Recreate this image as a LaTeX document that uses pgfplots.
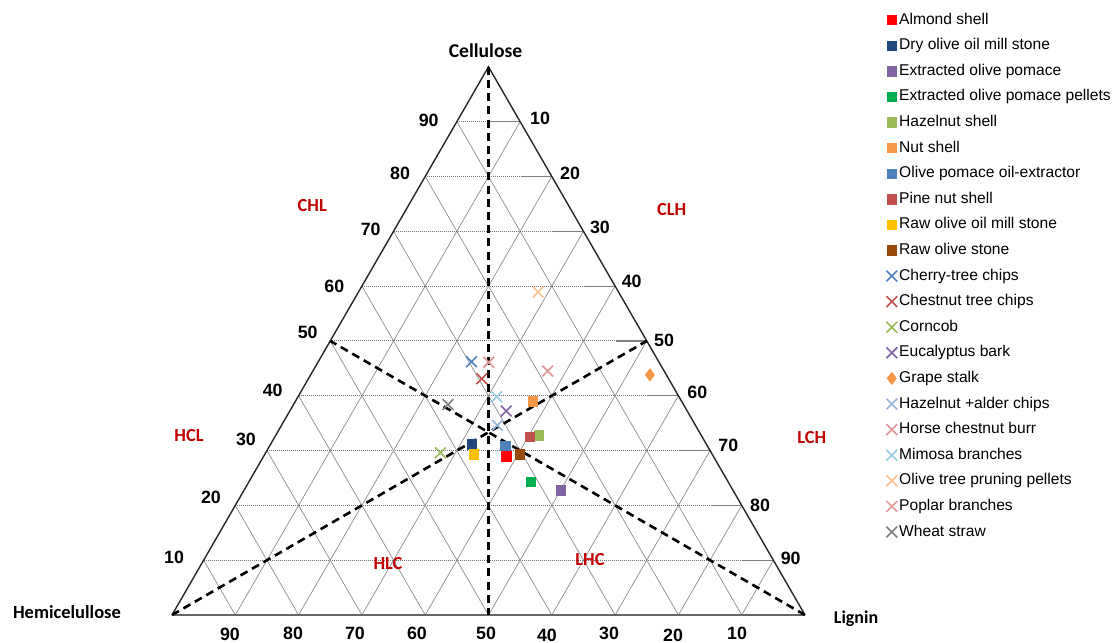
\documentclass[border=0pt]{standalone}
\usepackage{pgfplots}
\pgfplotsset{compat=1.18}
\usepackage{fontspec}
\setmainfont{Liberation Sans}
\newfontfamily\calibri{Carlito}

\definecolor{cAlmond}{HTML}{FF0000}
\definecolor{cDry}{HTML}{1F497D}
\definecolor{cExt}{HTML}{8064A2}
\definecolor{cExtP}{HTML}{00B050}
\definecolor{cHaz}{HTML}{9BBB59}
\definecolor{cNut}{HTML}{F79646}
\definecolor{cOPO}{HTML}{4F81BD}
\definecolor{cPine}{HTML}{C0504D}
\definecolor{cRawM}{HTML}{FFC000}
\definecolor{cRawS}{HTML}{984807}
\definecolor{cHA}{HTML}{95B3D7}
\definecolor{cHorse}{HTML}{D99694}
\definecolor{cMim}{HTML}{93CDDD}
\definecolor{cOTP}{HTML}{FAC090}
\definecolor{cPop}{HTML}{E09A98}
\definecolor{cWheat}{HTML}{7F7F7F}
\definecolor{lblred}{HTML}{C00000}

\tikzset{
  ticklbl/.style={font=\bfseries\fontsize{8.9}{10}\selectfont},
  redlbl/.style={font=\calibri\bfseries\fontsize{9.2}{10}\selectfont, text=lblred},
  namelbl/.style={font=\calibri\bfseries\fontsize{#1}{10}\selectfont},
}
\pgfplotsset{
  /pgfplots/table/tern/.style={x expr={\thisrow{L}+0.5*\thisrow{C}}, y expr={0.8660254*\thisrow{C}}, row sep=\\},
  mk/.style={only marks, legend image code/.code={\draw[##1] plot coordinates {(0pt,0pt)};}},
  sq/.style={mk, mark=square*, mark size=2.35pt, color=#1, mark options={fill=#1, draw=#1}},
  cr/.style={mk, mark=x, mark size=3.8pt, color=#1, mark options={line width=0.8pt, draw=#1}},
}

\begin{document}
\begin{tikzpicture}
\begin{axis}[
  scale only axis, width=557.5pt, height=321.5pt,
  xmin=-27.17, xmax=148.97, ymin=-4.42, ymax=97.16,
  hide axis, clip=false,
  legend cell align=left,
  legend style={at={(axis cs:112.8,95.2)}, anchor=north west, draw=none, fill=none,
    inner xsep=0pt, inner ysep=0pt, row sep=5.6pt, column sep=1pt,
    font=\fontsize{7.8}{9}\selectfont,
    nodes={inner sep=0pt, text height=5.6pt, text depth=1.6pt}},
]
\coordinate (BL) at (rel axis cs:0,0);
\coordinate (TR) at (rel axis cs:1,1);
% grid
\pgfplotsinvokeforeach{10,20,30,40,50,60,70,80,90}{
  \draw[black!55, line width=0.45pt, dash pattern=on 0.5pt off 0.5pt] (axis cs:{#1/2},{0.8660254*#1}) -- (axis cs:{100-#1/2},{0.8660254*#1});
  \draw[black!45, line width=0.35pt] (axis cs:#1,0) -- (axis cs:{50+#1/2},{0.8660254*(100-#1)});
  \draw[black!45, line width=0.35pt] (axis cs:{100-#1},0) -- (axis cs:{(100-#1)/2},{0.8660254*(100-#1)});
  \draw[black!50, line width=0.6pt] (axis cs:{100-#1/2-4.8},{0.8660254*#1}) -- (axis cs:{100-#1/2},{0.8660254*#1});
}
% outline
\draw[black!60, line width=1pt] (axis cs:0,0) -- (axis cs:100,0);
\draw[black!85, line width=0.7pt] (axis cs:0,0) -- (axis cs:50,86.60254) -- (axis cs:100,0);
% medians
\draw[black, line width=1.3pt, dash pattern=on 4pt off 2.6pt] (axis cs:50,86.60254) -- (axis cs:50,0);
\draw[black, line width=1.3pt, dash pattern=on 4pt off 2.6pt] (axis cs:0,0) -- (axis cs:75,43.30127);
\draw[black, line width=1.3pt, dash pattern=on 4pt off 2.6pt] (axis cs:100,0) -- (axis cs:25,43.30127);
% tick labels
\node[ticklbl] at (axis cs:40.55,78.09) {90};
\node[ticklbl] at (axis cs:36.02,69.78) {80};
\node[ticklbl] at (axis cs:31.39,60.93) {70};
\node[ticklbl] at (axis cs:25.64,51.97) {60};
\node[ticklbl] at (axis cs:21.44,44.60) {50};
\node[ticklbl] at (axis cs:15.91,35.43) {40};
\node[ticklbl] at (axis cs:11.69,27.80) {30};
\node[ticklbl] at (axis cs:6.16,18.59) {20};
\node[ticklbl] at (axis cs:0.32,9.05) {10};
\node[ticklbl] at (axis cs:58.14,78.52) {10};
\node[ticklbl] at (axis cs:62.88,69.83) {20};
\node[ticklbl] at (axis cs:67.61,61.29) {30};
\node[ticklbl] at (axis cs:72.62,52.76) {40};
\node[ticklbl] at (axis cs:77.73,43.44) {50};
\node[ticklbl] at (axis cs:82.98,35.12) {60};
\node[ticklbl] at (axis cs:87.88,26.86) {70};
\node[ticklbl] at (axis cs:92.89,17.38) {80};
\node[ticklbl] at (axis cs:97.74,8.96) {90};
\node[ticklbl] at (axis cs:9.16,-3.06) {90};
\node[ticklbl] at (axis cs:19.12,-2.84) {80};
\node[ticklbl] at (axis cs:28.91,-2.84) {70};
\node[ticklbl] at (axis cs:38.70,-2.84) {60};
\node[ticklbl] at (axis cs:49.61,-2.84) {50};
\node[ticklbl] at (axis cs:59.24,-3.15) {40};
\node[ticklbl] at (axis cs:69.04,-2.95) {30};
\node[ticklbl] at (axis cs:79.15,-3.15) {20};
\node[ticklbl] at (axis cs:89.26,-2.95) {10};
% names
\node[namelbl=9.8] at (axis cs:49.53,89.1) {Cellulose};
\node[namelbl=9.25] at (axis cs:-16.59,0.5) {Hemicelullose};
\node[namelbl=9] at (axis cs:108.06,-0.63) {Lignin};
\node[redlbl] at (axis cs:22.16,64.66) {CHL};
\node[redlbl] at (axis cs:78.94,64.09) {CLH};
\node[redlbl] at (axis cs:2.69,28.33) {HCL};
\node[redlbl] at (axis cs:101.06,28.01) {LCH};
\node[redlbl] at (axis cs:34.12,8.21) {HLC};
\node[redlbl] at (axis cs:66.03,8.69) {LHC};
% data (C = cellulose, H = hemicellulose, L = lignin, %)
\addplot[sq=cAlmond] table[tern] {C H L\\ 28.9 32.7 38.4\\};
\addlegendentry{Almond shell}
\addplot[sq=cDry] table[tern] {C H L\\ 31.1 37.1 31.8\\};
\addlegendentry{Dry olive oil mill stone}
\addplot[sq=cExt] table[tern] {C H L\\ 22.7 27.2 50.1\\};
\addlegendentry{Extracted olive pomace}
\addplot[sq=cExtP] table[tern] {C H L\\ 24.3 31.2 44.5\\};
\addlegendentry{Extracted olive pomace pellets}
\addplot[sq=cHaz] table[tern] {C H L\\ 32.8 25.6 41.6\\};
\addlegendentry{Hazelnut shell}
\addplot[sq=cNut] table[tern] {C H L\\ 39.0 23.5 37.5\\};
\addlegendentry{Nut shell}
\addplot[sq=cOPO] table[tern] {C H L\\ 30.9 31.9 37.2\\};
\addlegendentry{Olive pomace oil-extractor}
\addplot[sq=cPine] table[tern] {C H L\\ 32.5 27.2 40.3\\};
\addlegendentry{Pine nut shell}
\addplot[sq=cRawM] table[tern] {C H L\\ 29.3 37.7 33.0\\};
\addlegendentry{Raw olive oil mill stone}
\addplot[sq=cRawS] table[tern] {C H L\\ 29.3 30.4 40.3\\};
\addlegendentry{Raw olive stone}
\addplot[cr=cOPO] table[tern] {C H L\\ 46.2 29.6 24.2\\};
\addlegendentry{Cherry-tree chips}
\addplot[cr=cPine] table[tern] {C H L\\ 43.1 29.5 27.4\\};
\addlegendentry{Chestnut tree chips}
\addplot[cr=cHaz] table[tern] {C H L\\ 29.6 42.8 27.6\\};
\addlegendentry{Corncob}
\addplot[cr=cExt] table[tern] {C H L\\ 37.2 28.6 34.2\\};
\addlegendentry{Eucalyptus bark}
\addplot[mk, mark=diamond*, mark size=3pt, color=cNut, mark options={fill=cNut, draw=cNut}] table[tern] {C H L\\ 43.8 2.6 53.6\\};
\addlegendentry{Grape stalk}
\addplot[cr=cHA] table[tern] {C H L\\ 34.6 31.3 34.1\\};
\addlegendentry{Hazelnut +alder chips}
\addplot[cr=cHorse] table[tern] {C H L\\ 46.1 26.9 27.0\\};
\addlegendentry{Horse chestnut burr}
\addplot[cr=cMim] table[tern] {C H L\\ 39.8 28.8 31.4\\};
\addlegendentry{Mimosa branches}
\addplot[cr=cOTP] table[tern] {C H L\\ 58.9 12.7 28.4\\};
\addlegendentry{Olive tree pruning pellets}
\addplot[cr=cPop] table[tern] {C H L\\ 44.5 18.4 37.1\\};
\addlegendentry{Poplar branches}
\addplot[cr=cWheat] table[tern] {C H L\\ 38.4 37.2 24.4\\};
\addlegendentry{Wheat straw}
\end{axis}
\pgfresetboundingbox
\path[use as bounding box] (BL) rectangle (TR);
\end{tikzpicture}
\end{document}
